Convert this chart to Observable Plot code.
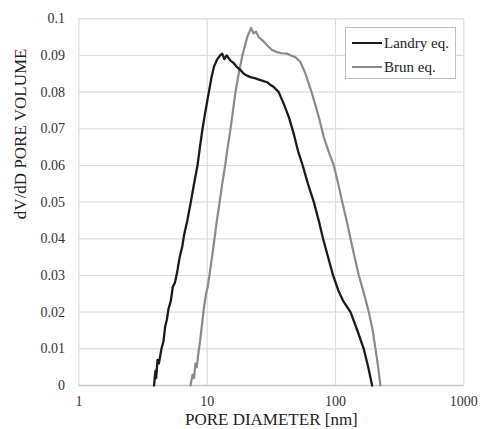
<!DOCTYPE html>
<html>
<head>
<meta charset="utf-8">
<script src="https://cdn.jsdelivr.net/npm/d3@7"></script>
<script src="https://cdn.jsdelivr.net/npm/@observablehq/plot@0.6"></script>
<style>
  html, body { margin: 0; padding: 0; background: #fff; }
  #wrap { position: relative; width: 483px; height: 429px; }
  #chart svg, #chart svg text { font-family: "Liberation Serif", serif !important; }
  #legend {
    position: absolute; left: 345px; top: 27px; width: 111px; height: 52px;
    border: 1px solid #bfbfbf; background: #fff; box-sizing: border-box;
    font-family: "Liberation Serif", serif; font-size: 15px; color: #222;
  }
  .row { position: absolute; left: 6px; height: 16px; display: flex; align-items: center; }
  .sw { width: 30px; height: 2px; margin-right: 2px; }
</style>
</head>
<body>
<div id="wrap">
  <div id="chart"></div>
  <div id="legend"></div>
</div>
<script>
// Landry eq. (black)
const landryD = [3.85,3.95,4.0,4.1,4.2,4.4,4.56,4.7,4.85,5.0,5.2,5.4,5.6,5.84,6.1,6.4,6.6,7.0,7.45,7.9,8.4,8.7,9.1,9.6,10.3,10.8,11.3,12.0,12.6,13.1,13.6,14.2,15.2,16.0,17.1,18.2,19.3,20.5,21.7,23.5,25.3,27.5,29.4,31.0,33.0,36.1,39.5,43.3,47.3,51,55.5,61,67.8,74,80,86,95.8,105,115,131,148,166,180,193];
const landryV = [0,0.004,0.002,0.007,0.006,0.010,0.012,0.016,0.018,0.021,0.023,0.027,0.028,0.031,0.035,0.038,0.041,0.045,0.050,0.055,0.060,0.064,0.069,0.074,0.080,0.084,0.087,0.089,0.090,0.0905,0.089,0.090,0.0886,0.088,0.0868,0.086,0.085,0.0845,0.0841,0.0838,0.0834,0.083,0.0827,0.082,0.0814,0.080,0.0768,0.0732,0.0686,0.064,0.060,0.055,0.050,0.045,0.040,0.036,0.030,0.026,0.023,0.020,0.015,0.010,0.005,0];
// Brun eq. (gray)
const brunD = [7.4,7.7,7.9,8.1,8.3,8.55,8.8,9.0,9.2,9.5,9.8,10.1,10.4,10.9,11.4,11.9,12.5,13.1,13.8,14.3,15.2,15.9,16.6,17.6,18.8,20.5,22.0,23.0,24.0,25.2,27.2,29.4,32,35.1,38,42,45,48.8,53.3,58.4,65.8,74.1,81.1,89,97,105,113,122,131,141,152,167,182,195,205,215,224];
const brunV = [0,0.003,0.002,0.006,0.005,0.009,0.012,0.015,0.018,0.022,0.025,0.027,0.030,0.035,0.040,0.045,0.050,0.055,0.060,0.064,0.070,0.075,0.080,0.085,0.090,0.095,0.0975,0.096,0.0965,0.095,0.094,0.0927,0.0915,0.0909,0.0906,0.0905,0.0900,0.0895,0.0882,0.085,0.0795,0.0732,0.0677,0.0635,0.060,0.055,0.050,0.045,0.040,0.035,0.030,0.025,0.020,0.015,0.010,0.005,0];

const xTicks = [1, 10, 100, 1000];
const yTicks = [0, 0.01, 0.02, 0.03, 0.04, 0.05, 0.06, 0.07, 0.08, 0.09, 0.1];
const yTickLabels = ["0","0.01","0.02","0.03","0.04","0.05","0.06","0.07","0.08","0.09","0.1"];
const seriesNames = ["Landry eq.", "Brun eq."];
const seriesColors = ["#1c1a1a", "#8a8a8a"];
const xTitle = "PORE DIAMETER [nm]";
const yTitle = "dV/dD PORE VOLUME";

const landry = landryD.map((d, i) => ({d, v: landryV[i]}));
const brun = brunD.map((d, i) => ({d, v: brunV[i]}));

const chart = Plot.plot({
  width: 483,
  height: 429,
  marginLeft: 78.4,
  marginRight: 19.7,
  marginTop: 18.3,
  marginBottom: 44,
  style: {fontFamily: "Liberation Serif", color: "#333", background: "#fff"},
  x: {type: "log", domain: [1, 1000]},
  y: {domain: [0, 0.1]},
  marks: [
    Plot.gridX(xTicks, {stroke: "#dcdcdc", strokeOpacity: 1, strokeWidth: 1.2}),
    Plot.gridY(yTicks, {stroke: "#dcdcdc", strokeOpacity: 1, strokeWidth: 1.2}),
    Plot.ruleY([0], {stroke: "#c8c8c8", strokeWidth: 1.5}),
    Plot.axisX(xTicks, {tickSize: 0, tickPadding: 11, fontSize: 14, label: null, tickFormat: d => String(d), fill: "#333"}),
    Plot.axisY(yTicks, {tickSize: 0, tickPadding: 14, fontSize: 14, label: null, tickFormat: (d, i) => yTickLabels[i], fill: "#333"}),
    Plot.text([xTitle], {frameAnchor: "bottom", dy: 34, fontSize: 17, fill: "#222", lineAnchor: "middle"}),
    Plot.text([yTitle], {frameAnchor: "left", dx: -58, dy: 17, rotate: -90, fontSize: 17, fill: "#222", lineAnchor: "middle"}),
    Plot.line(brun, {x: "d", y: "v", stroke: seriesColors[1], strokeWidth: 2.2}),
    Plot.line(landry, {x: "d", y: "v", stroke: seriesColors[0], strokeWidth: 2.3})
  ]
});
document.getElementById("chart").appendChild(chart);

const legend = document.getElementById("legend");
seriesNames.forEach((name, i) => {
  const row = document.createElement("div");
  row.className = "row";
  row.style.top = (i === 0 ? 7 : 31) + "px";
  const sw = document.createElement("div");
  sw.className = "sw";
  sw.style.background = seriesColors[i];
  const t = document.createElement("span");
  t.textContent = name;
  row.appendChild(sw);
  row.appendChild(t);
  legend.appendChild(row);
});
</script>
</body>
</html>
